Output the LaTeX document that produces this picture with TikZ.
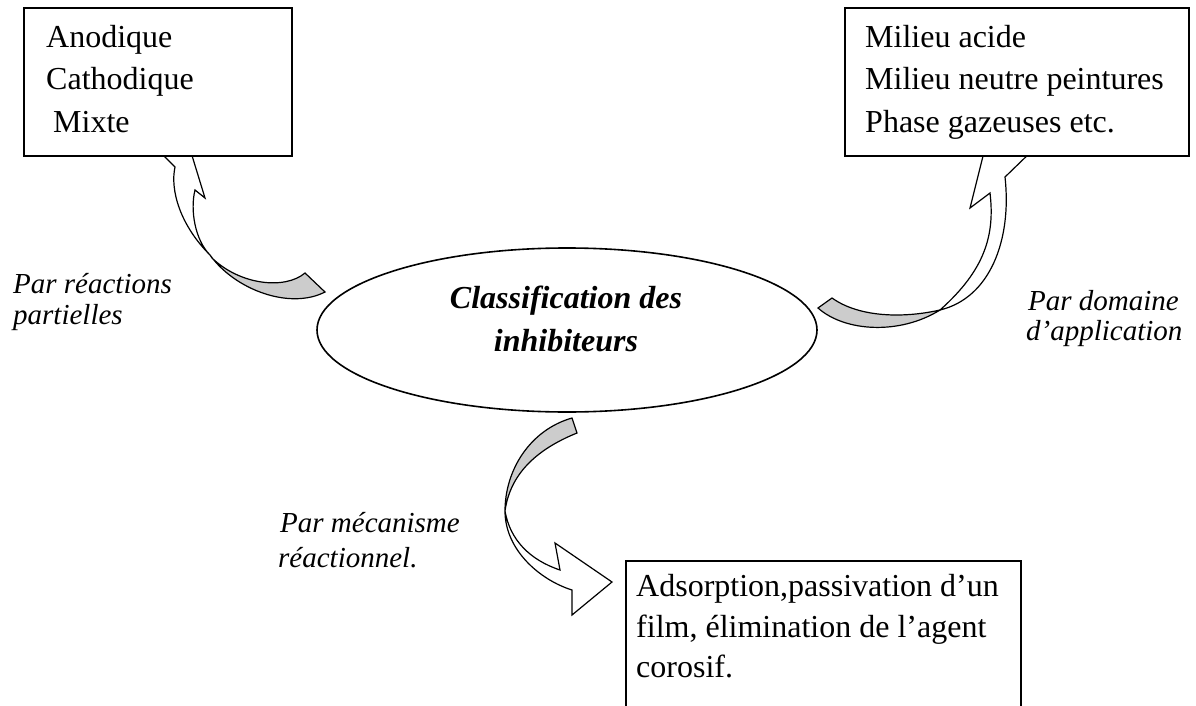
\documentclass[tikz,border=0pt]{standalone}
\usepackage{fontspec}
\setmainfont{Liberation Serif}
\usetikzlibrary{shapes.geometric}
\definecolor{arrowgray}{RGB}{204,204,204}
\tikzset{
  boxnode/.style={draw, line width=1.6pt, fill=white, inner sep=0pt, rectangle},
  ellnode/.style={draw, line width=1.6pt, fill=white, ellipse, inner sep=0pt},
  boxtext/.style={anchor=base west, inner sep=0pt, font=\fontsize{32}{38}\selectfont},
  elltext/.style={anchor=base, inner sep=0pt, font=\fontsize{32}{38}\selectfont\bfseries\itshape},
  lbltext/.style={anchor=base west, inner sep=0pt, font=\fontsize{29}{34}\selectfont\itshape},
  frontband/.style={draw, line width=1.2pt, fill=white, line join=miter},
  backband/.style={draw, line width=1.2pt, fill=arrowgray, line join=miter}
}
\begin{document}
\begin{tikzpicture}[x=1pt, y=-1pt]
\clip (0,0) rectangle (1196,706);
\fill[white] (0,0) rectangle (1196,706);

% ---------- left curved arrow (towards box 1) ----------
\coordinate (lm) at (210,255);
\path[backband] (lm) .. controls (235,290) and (290,310) .. (325,292)
   -- (305,273) .. controls (285,290) and (240,285) .. (212,258) -- cycle;
\path[frontband] (lm) .. controls (180,225) and (170,190) .. (175,167)
   -- (158,150) -- (186,136) -- (205,198) -- (195,190)
   .. controls (190,210) and (195,240) .. (lm) -- cycle;

% ---------- right curved arrow (towards box 2) ----------
\coordinate (rm) at (940,310);
\path[backband] (818,308) .. controls (845,332) and (900,335) .. (rm)
   .. controls (905,318) and (860,318) .. (832,298) -- cycle;
\path[frontband] (rm) .. controls (990,298) and (1012,240) .. (1005,177)
   -- (1036,147) -- (990,128) -- (970,208) -- (990,193)
   .. controls (995,235) and (985,270) .. (rm) -- cycle;

% ---------- bottom curved arrow (towards box 3) ----------
\coordinate (dm) at (505,511);
\path[backband] (572,418) .. controls (530,430) and (505,470) .. (dm)
   .. controls (510,475) and (535,450) .. (577,433) -- cycle;
\path[frontband] (dm) .. controls (505,550) and (540,580) .. (572,590)
   -- (572,615) -- (612,582) -- (555,543) -- (560,570)
   .. controls (530,560) and (510,540) .. (dm) -- cycle;

% ---------- boxes ----------
\node[boxnode, minimum width=268pt, minimum height=148pt] (b1) at (158,82) {};
\node[boxnode, minimum width=344pt, minimum height=148pt] (b2) at (1017,82) {};
\node[boxnode, minimum width=395pt, minimum height=160pt] (b3) at (823.5,641) {};

% ---------- ellipse ----------
\node[ellnode, minimum width=500pt, minimum height=164pt] (ell) at (567,330) {};
\node[elltext] (e1) at (566,308) {Classification des};
\node[elltext] (e2) at (566,351) {inhibiteurs};

% ---------- box texts ----------
\node[boxtext] (t11) at (46,48) {Anodique};
\node[boxtext] (t12) at (46,90) {Cathodique};
\node[boxtext] (t13) at (53,132) {Mixte};

\node[boxtext] (t21) at (865,48) {Milieu acide};
\node[boxtext] (t22) at (865,90) {Milieu neutre peintures};
\node[boxtext] (t23) at (865,132) {Phase gazeuses etc.};

\node[boxtext] (t31) at (636,596) {Adsorption,passivation d’un};
\node[boxtext] (t32) at (636,637) {film, élimination de l’agent};
\node[boxtext] (t33) at (636,677) {corosif.};

% ---------- labels ----------
\node[lbltext] (l11) at (13,293) {Par réactions};
\node[lbltext] (l12) at (13,324) {partielles};
\node[lbltext] (l21) at (1028,310) {Par domaine};
\node[lbltext] (l22) at (1026,340) {d’application};
\node[lbltext] (l31) at (280,532) {Par mécanisme};
\node[lbltext] (l32) at (278,567) {réactionnel.};
\end{tikzpicture}
\end{document}
